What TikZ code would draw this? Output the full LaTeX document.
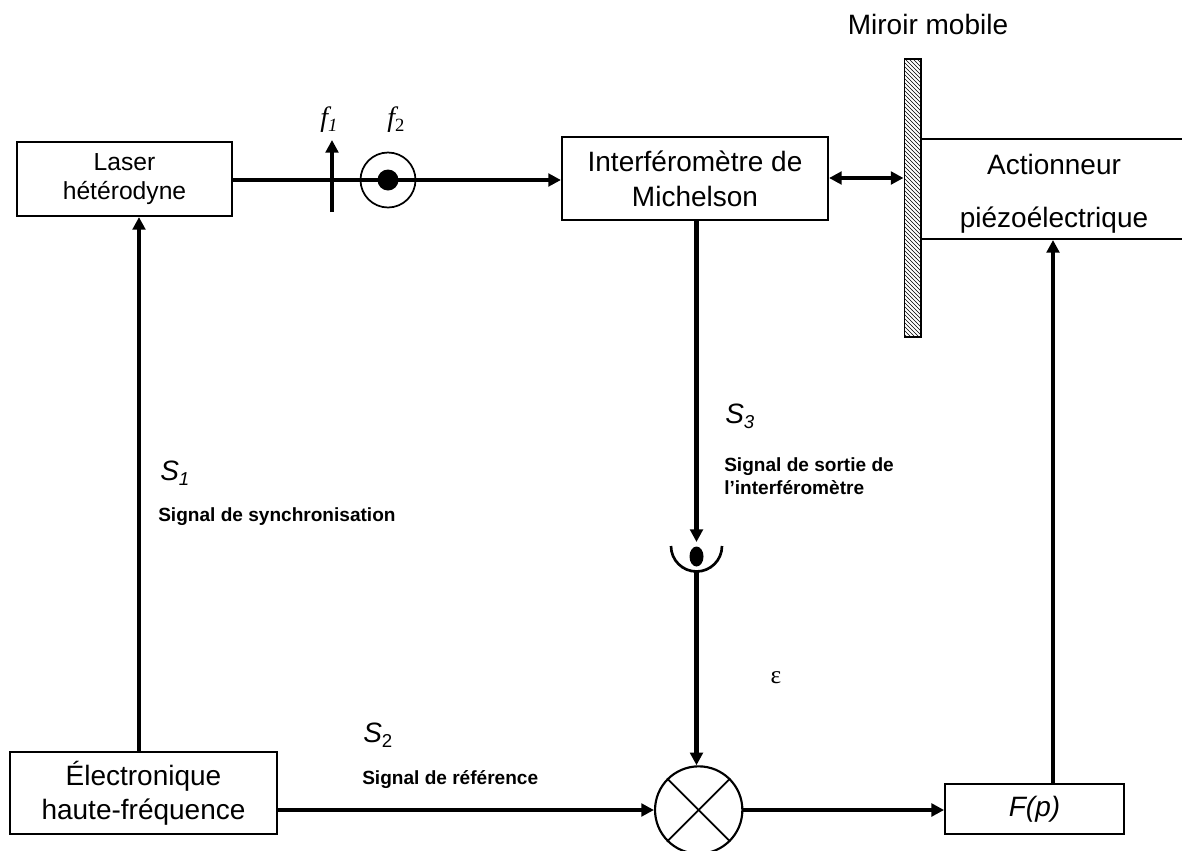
\documentclass[tikz,border=0pt]{standalone}
\usepackage{fontspec}
\setmainfont{Liberation Sans}
\newfontfamily\serifit{Liberation Serif}
\usetikzlibrary{arrows.meta,patterns}
\newcommand{\indice}[1]{{\fontsize{14}{14}\selectfont\raisebox{-4pt}{#1}}}
\tikzset{
    blockbox/.style={draw,line width=1.6pt,fill=white,align=center,inner sep=0pt},
    link/.style={line width=3.3pt,-{Triangle[length=9.5pt,width=9.5pt]}},
    legend/.style={font=\fontsize{14.3}{17.5}\selectfont\bfseries,align=left,anchor=west,inner sep=0pt},
    sym/.style={font=\fontsize{21}{24}\selectfont\itshape,anchor=base west,inner sep=0pt},
    pol/.style={font=\fontsize{21}{24}\selectfont\serifit\itshape,anchor=base west,inner sep=0pt}
}
\begin{document}
\begin{tikzpicture}[x=0.75pt,y=-0.75pt]
    \useasboundingbox (0,0) rectangle (1182,850);

    % Miroir
    \node[draw,line width=1pt,pattern=north west lines,minimum width=12.5pt,minimum height=208.5pt,inner sep=0pt] (miroir) at (912.5,198) {};
    \node[font=\fontsize{21}{24}\selectfont] (titremiroir) at (928,24) {Miroir mobile};

    % Blocs
    \node[blockbox,minimum width=161pt,minimum height=55.5pt,font=\fontsize{18.5}{22}\selectfont] (laser) at (124.5,179) {Laser\\hétérodyne};
    \node[blockbox,minimum width=199.5pt,minimum height=62pt,font=\fontsize{21}{26.5}\selectfont] (michelson) at (695,178.5) {Interféromètre de\\Michelson};
    \node[font=\fontsize{21}{40}\selectfont,align=center] (actionneur) at (1054,194) {Actionneur\\piézoélectrique};
    \node[blockbox,minimum width=200pt,minimum height=61.5pt,font=\fontsize{21}{25.5}\selectfont] (electronique) at (143.5,793) {Électronique\\haute-fréquence};
    \node[blockbox,minimum width=134pt,minimum height=37.5pt,font=\fontsize{21}{24}\selectfont\itshape] (filtre) at (1034.5,809) {F(p)};
    \node[draw,circle,line width=1.6pt,minimum size=65.5pt,inner sep=0pt] (mixeur) at (698.7,810) {};

    % Actionneur ouvert a droite
    \draw[line width=1.6pt] (1182,139) -- (921,139) -- (921,239) -- (1182,239);

    % Croix du mixeur
    \draw[line width=1.3pt] (mixeur.45) -- (mixeur.225);
    \draw[line width=1.3pt] (mixeur.135) -- (mixeur.315);

    % Detecteur
    \coordinate (detecteur) at (696.5,556.5);
    \coordinate (detecteurbas) at (696.5,572);
    \coordinate (synchro) at (139,0);
    \coordinate (retour) at (1053,0);
    \fill (detecteur) ellipse [x radius=7,y radius=10];
    \draw[line width=2pt] (671,546) arc (180:0:25.5);

    % Polarisations
    \coordinate (polun) at (332,180);
    \coordinate (polunhaut) at (332,140);
    \coordinate (polunbas) at (332,212);
    \coordinate (poldeux) at (388,180);
    \coordinate (niveaumiroir) at (0,178);
    \draw[link,line width=2.6pt] (polunbas) -- (polunhaut);
    \draw[line width=1.3pt] (poldeux) circle (27.5);
    \fill (poldeux) circle (10.5);
    \node[pol] (fun) at (320,126) {f\indice{1}};
    \node[pol] (fdeux) at (387,126) {f\indice{\upshape 2}};

    % Liaisons
    \draw[link] (laser.east |- polun) -- (michelson.west |- polun);
    \draw[line width=3.3pt,{Triangle[length=9.5pt,width=9.5pt]}-{Triangle[length=9.5pt,width=9.5pt]}] (michelson.east |- niveaumiroir) -- (miroir.west |- niveaumiroir);
    \draw[link] (electronique.north -| synchro) -- (laser.south -| synchro);
    \draw[link] (michelson.south -| detecteur) -- (696.5,542);
    \draw[link] (detecteurbas) -- (mixeur.north -| detecteur);
    \draw[link] (electronique.east |- mixeur) -- (mixeur.west);
    \draw[link] (mixeur.east) -- (filtre.west |- mixeur);
    \draw[link] (filtre.north -| retour) -- (1053,240);

    % Legendes
    \node[sym] (sun) at (160,480) {S\indice{1}};
    \node[legend] (legun) at (158,517) {Signal de synchronisation};
    \node[sym] (sdeux) at (363,742) {S\indice{\upshape 2}};
    \node[legend] (legdeux) at (362,780) {Signal de référence};
    \node[sym] (strois) at (725,423) {S\indice{3}};
    \node[legend] (legtrois) at (724,476) {Signal de sortie de\\l’interféromètre};
    \node[font=\fontsize{19}{22}\selectfont\serifit] (epsilon) at (776,678) {ε};
\end{tikzpicture}
\end{document}
